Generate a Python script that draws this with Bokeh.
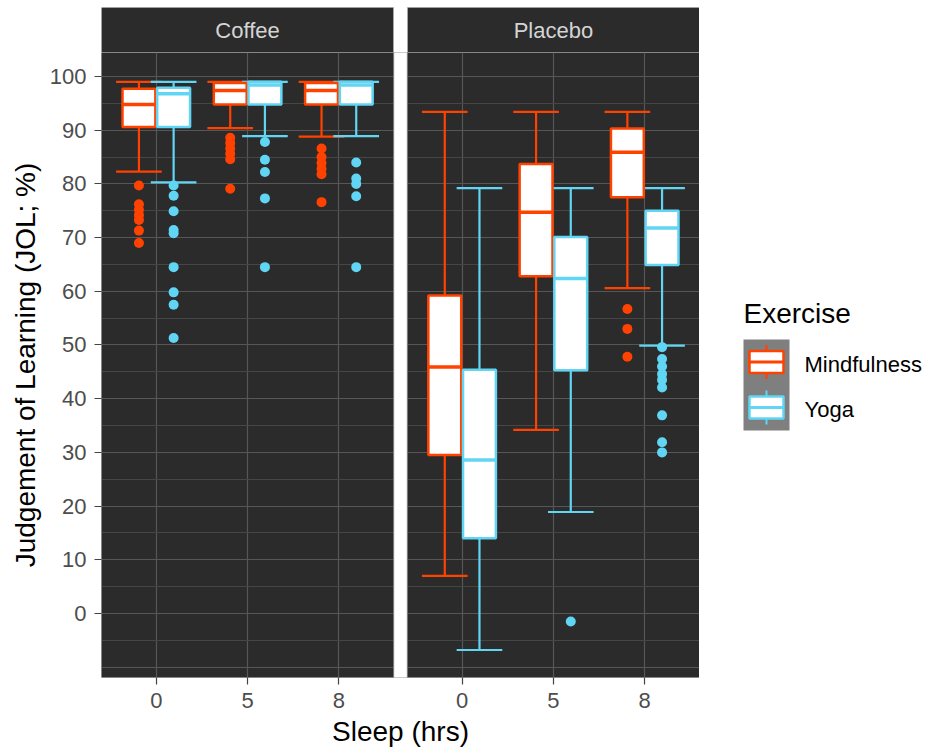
from bokeh.plotting import figure
from bokeh.models import Range1d, FixedTicker, CustomJSTickFormatter
from bokeh.layouts import row, column
from bokeh.core.properties import value
from bokeh.embed import file_html
from bokeh.resources import INLINE

# ---------------- data ----------------
panels = ["Coffee", "Placebo"]
sleep_levels = ["0", "5", "8"]
exercise = ["Mindfulness", "Yoga"]

# order: Coffee 0,5,8 then Placebo 0,5,8
mind_low = [82.3, 90.4, 88.8, 7.0, 34.2, 60.6]
mind_q1 = [90.6, 94.8, 94.8, 29.5, 62.8, 77.5]
mind_med = [94.8, 97.4, 97.4, 45.9, 74.7, 85.9]
mind_q3 = [97.7, 98.8, 98.8, 59.2, 83.7, 90.3]
mind_high = [99.0, 99.0, 99.0, 93.4, 93.4, 93.4]
mind_out = [
    [79.7, 76.2, 75.2, 74.2, 73.3, 71.3, 69.0],
    [88.6, 87.6, 86.6, 85.6, 84.6, 79.1],
    [86.6, 85.0, 83.9, 82.8, 81.8, 76.6],
    [],
    [],
    [56.7, 53.0, 47.8],
]

yoga_low = [80.3, 88.9, 88.9, -6.8, 18.9, 49.9]
yoga_q1 = [90.6, 94.8, 94.8, 14.0, 45.3, 64.9]
yoga_med = [96.8, 98.4, 98.4, 28.6, 62.4, 71.8]
yoga_q3 = [97.9, 99.0, 99.0, 45.4, 70.1, 75.0]
yoga_high = [99.0, 99.0, 99.0, 79.2, 79.2, 79.2]
yoga_out = [
    [79.7, 77.8, 74.9, 71.4, 70.8, 64.5, 59.8, 57.5, 51.3],
    [87.8, 84.5, 82.2, 77.3, 64.5],
    [84.0, 81.0, 80.0, 77.7, 64.5],
    [],
    [-1.5],
    [49.6, 47.4, 46.0, 44.6, 43.5, 42.1, 36.9, 31.9, 30.0],
]

y_ticks = list(range(0, 101, 10))

# ---------------- styling ----------------
FONT = "Liberation Sans"
RED = "#FF4200"
BLUE = "#60D6F4"
PANEL_BG = "#2b2b2b"
BORDER = "#7a7a7a"
GRID_MAJOR = "#575757"
GRID_MINOR = "#464646"

EXPAND = 0.6
GAP = 0.15
PANEL_SPAN = len(sleep_levels) - 1 + 2 * EXPAND
Y0, Y1 = -11.92, 104.47
BOX_W = 0.36
CAP_W = 0.5
DODGE = 0.19

centers = []
for pi_, _ in enumerate(panels):
    for j, _ in enumerate(sleep_levels):
        centers.append(1 + j + pi_ * (PANEL_SPAN + GAP))
panel_left = [1 - EXPAND + i * (PANEL_SPAN + GAP) for i in range(len(panels))]
panel_right = [l + PANEL_SPAN for l in panel_left]
X0, X1 = panel_left[0], panel_right[-1]
tick_labels = sleep_levels * len(panels)

xr = Range1d(X0, X1)
LEFT = 101

# ---------------- main panel figure ----------------
p = figure(width=699, height=697, x_range=xr, y_range=Range1d(Y0, Y1),
           output_backend="svg", toolbar_location=None,
           min_border_left=LEFT, min_border_right=0, min_border_top=0, min_border_bottom=72)
p.background_fill_color = PANEL_BG
p.border_fill_color = "white"
p.outline_line_color = None

p.ygrid.ticker = FixedTicker(ticks=list(range(-10, 101, 10)), minor_ticks=list(range(-5, 101, 10)))
p.ygrid.grid_line_color = GRID_MAJOR
p.ygrid.grid_line_width = 1.2
p.ygrid.minor_grid_line_color = GRID_MINOR
p.ygrid.minor_grid_line_width = 1
p.xgrid.ticker = FixedTicker(ticks=centers)
p.xgrid.grid_line_color = GRID_MAJOR
p.xgrid.grid_line_width = 1.2

p.yaxis.ticker = FixedTicker(ticks=y_ticks, minor_ticks=[])
p.xaxis.ticker = FixedTicker(ticks=centers, minor_ticks=[])
p.xaxis.formatter = CustomJSTickFormatter(
    args=dict(pos=centers, lab=tick_labels),
    code="for (let i = 0; i < pos.length; i++) { if (Math.abs(pos[i] - tick) < 1e-6) return lab[i]; } return '';")
for ax in (p.xaxis[0], p.yaxis[0]):
    ax.axis_line_color = None
    ax.major_tick_out = 7
    ax.major_tick_in = 0
    ax.minor_tick_out = 0
    ax.minor_tick_in = 0
    ax.major_tick_line_color = "#444444"
    ax.major_tick_line_width = 1.2
    ax.major_label_text_font = FONT
    ax.major_label_text_font_size = "22px"
    ax.major_label_text_color = "#4d4d4d"
    ax.axis_label_text_font = FONT
    ax.axis_label_text_font_size = "28px"
    ax.axis_label_text_font_style = "normal"
    ax.axis_label_text_color = "black"
p.yaxis.major_label_standoff = 8
p.xaxis.major_label_standoff = 8
p.yaxis.axis_label = "Judgement of Learning (JOL; %)"
p.yaxis.axis_label_standoff = 6
p.xaxis.axis_label = "Sleep (hrs)"
p.xaxis.axis_label_standoff = 5

# white gap between the facets and panel borders
p.quad(left=panel_right[:-1], right=panel_left[1:], bottom=Y0 - 5, top=Y1 + 5,
       fill_color="white", line_color=None)
p.quad(left=panel_left, right=panel_right, bottom=Y0, top=Y1,
       fill_color=None, line_color=BORDER, line_width=1)


def draw_group(off, low, high, outs, color):
    xs = [c + off for c in centers]
    p.segment(x0=xs, y0=low, x1=xs, y1=high, line_color=color, line_width=2.2)
    p.segment(x0=[x - CAP_W / 2 for x in xs], y0=high, x1=[x + CAP_W / 2 for x in xs], y1=high,
              line_color=color, line_width=2.2)
    p.segment(x0=[x - CAP_W / 2 for x in xs], y0=low, x1=[x + CAP_W / 2 for x in xs], y1=low,
              line_color=color, line_width=2.2)
    ox, oy = [], []
    for x, o in zip(xs, outs):
        ox += [x] * len(o)
        oy += o
    p.scatter(x=ox, y=oy, size=10, fill_color=color, line_color=None)
    return xs


def draw_boxes(xs, q1, med, q3, color):
    p.quad(left=[x - BOX_W / 2 for x in xs], right=[x + BOX_W / 2 for x in xs], bottom=q1, top=q3,
           fill_color="white", line_color=color, line_width=2.5)
    p.segment(x0=[x - BOX_W / 2 for x in xs], y0=med, x1=[x + BOX_W / 2 for x in xs], y1=med,
              line_color=color, line_width=3.5)


xs_m = draw_group(-DODGE, mind_low, mind_high, mind_out, RED)
xs_y = draw_group(DODGE, yoga_low, yoga_high, yoga_out, BLUE)
draw_boxes(xs_m, mind_q1, mind_med, mind_q3, RED)
draw_boxes(xs_y, yoga_q1, yoga_med, yoga_q3, BLUE)

# ---------------- strip figure ----------------
s = figure(width=699, height=52, x_range=xr, y_range=Range1d(0, 1),
           output_backend="svg", toolbar_location=None,
           x_axis_location=None, y_axis_location=None,
           min_border_left=LEFT, min_border_right=0, min_border_top=7, min_border_bottom=0)
s.grid.visible = False
s.background_fill_color = "white"
s.border_fill_color = "white"
s.outline_line_color = None
s.quad(left=panel_left, right=panel_right, bottom=0, top=1,
       fill_color=PANEL_BG, line_color=BORDER, line_width=1)
s.quad(left=panel_right[:-1], right=panel_left[1:], bottom=-0.5, top=1.5,
       fill_color="white", line_color=None)
s.text(x=[(l + r) / 2 for l, r in zip(panel_left, panel_right)], y=[0.5, 0.5], text=panels,
       text_align="center", text_baseline="middle", text_font=value(FONT),
       text_font_size="22px", text_color="#d4d4d4")

# ---------------- legend figure ----------------
lg = figure(width=234, height=749, x_range=Range1d(0, 234), y_range=Range1d(749, 0),
            output_backend="svg", toolbar_location=None,
            x_axis_location=None, y_axis_location=None, min_border=0)
lg.grid.visible = False
lg.background_fill_color = "white"
lg.border_fill_color = "white"
lg.outline_line_color = None
lg.text(x=[44], y=[313], text=["Exercise"], text_align="left", text_baseline="middle",
        text_font=value(FONT), text_font_size="28px", text_color="black")
lg.quad(left=[44], right=[90], top=[339], bottom=[430], fill_color="#7f7f7f", line_color=None)
key_y = [361.5, 407]
key_colors = [RED, BLUE]
lg.segment(x0=[67, 67], y0=[k - 17 for k in key_y], x1=[67, 67], y1=[k + 17 for k in key_y],
           line_color=key_colors, line_width=2)
lg.quad(left=[50, 50], right=[84, 84], top=[k - 11 for k in key_y], bottom=[k + 11 for k in key_y],
        fill_color="white", line_color=key_colors, line_width=2.5)
lg.segment(x0=[50, 50], y0=key_y, x1=[84, 84], y1=key_y, line_color=key_colors, line_width=3)
lg.text(x=[105, 105], y=[k + 2 for k in key_y], text=exercise, text_align="left",
        text_baseline="middle", text_font=value(FONT), text_font_size="22px", text_color="black")

layout = row(column(s, p), lg)
open("out.html", "w").write(file_html(layout, INLINE))
